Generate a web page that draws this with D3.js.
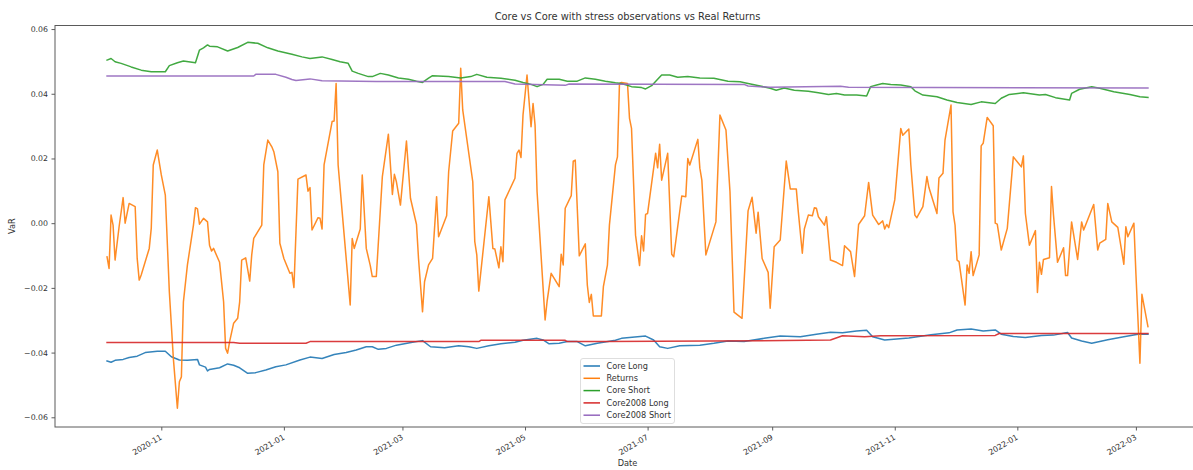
<!DOCTYPE html>
<html>
<head>
<meta charset="utf-8">
<script src="https://cdn.jsdelivr.net/npm/d3@7"></script>
<style>
  body { margin: 0; background: #fff; }
  svg { display: block; font-family: "DejaVu Sans", sans-serif; }
</style>
</head>
<body>
<svg id="chart" width="1193" height="470"></svg>
<script>
// Series names and colours (legend order)
const seriesNames = ["Core Long", "Returns", "Core Short", "Core2008 Long", "Core2008 Short"];
const seriesColors = ["#1f77b4", "#ff7f0e", "#2ca02c", "#d62728", "#9467bd"];

// Core VaR, long side
const coreLong = [
  ["2020-10-05",-0.0426],["2020-10-07",-0.0430],["2020-10-09",-0.0424],["2020-10-13",-0.0421],
  ["2020-10-16",-0.0415],["2020-10-20",-0.0411],["2020-10-24",-0.0400],["2020-10-30",-0.0396],
  ["2020-11-03",-0.0396],["2020-11-06",-0.0413],["2020-11-10",-0.0423],["2020-11-14",-0.0424],
  ["2020-11-19",-0.0421],["2020-11-20",-0.0438],["2020-11-23",-0.0445],["2020-11-24",-0.0457],
  ["2020-11-25",-0.0452],["2020-11-30",-0.0447],["2020-12-04",-0.0435],["2020-12-07",-0.0439],
  ["2020-12-10",-0.0447],["2020-12-14",-0.0464],["2020-12-18",-0.0462],["2020-12-23",-0.0454],
  ["2020-12-28",-0.0444],["2021-01-02",-0.0438],["2021-01-09",-0.0423],["2021-01-14",-0.0414],
  ["2021-01-20",-0.0418],["2021-01-26",-0.0406],["2021-02-01",-0.0400],["2021-02-06",-0.0392],
  ["2021-02-11",-0.0382],["2021-02-14",-0.0382],["2021-02-17",-0.0390],["2021-02-21",-0.0387],
  ["2021-02-26",-0.0377],["2021-03-06",-0.0368],["2021-03-11",-0.0363],["2021-03-15",-0.0382],
  ["2021-03-22",-0.0385],["2021-03-29",-0.0379],["2021-04-03",-0.0382],["2021-04-07",-0.0387],
  ["2021-04-13",-0.0379],["2021-04-19",-0.0373],["2021-04-26",-0.0368],["2021-04-30",-0.0362],
  ["2021-05-07",-0.0356],["2021-05-10",-0.0361],["2021-05-13",-0.0373],["2021-05-18",-0.0371],
  ["2021-05-22",-0.0366],["2021-05-27",-0.0366],["2021-05-31",-0.0379],["2021-06-06",-0.0371],
  ["2021-06-15",-0.0362],["2021-06-18",-0.0356],["2021-06-26",-0.0351],["2021-06-30",-0.0349],
  ["2021-07-04",-0.0361],["2021-07-07",-0.0382],["2021-07-11",-0.0387],["2021-07-17",-0.0379],
  ["2021-07-27",-0.0377],["2021-08-03",-0.0371],["2021-08-10",-0.0364],["2021-08-18",-0.0366],
  ["2021-08-28",-0.0356],["2021-09-05",-0.0349],["2021-09-15",-0.0351],["2021-09-23",-0.0343],
  ["2021-09-30",-0.0337],["2021-10-06",-0.0339],["2021-10-13",-0.0333],["2021-10-18",-0.0331],
  ["2021-10-21",-0.0351],["2021-10-27",-0.0361],["2021-11-08",-0.0355],["2021-11-19",-0.0345],
  ["2021-11-28",-0.0339],["2021-12-02",-0.0330],["2021-12-09",-0.0327],["2021-12-15",-0.0333],
  ["2021-12-21",-0.0330],["2021-12-24",-0.0343],["2021-12-30",-0.0350],["2022-01-05",-0.0353],
  ["2022-01-13",-0.0347],["2022-01-19",-0.0346],["2022-01-26",-0.0338],["2022-01-28",-0.0355],
  ["2022-02-02",-0.0364],["2022-02-07",-0.0371],["2022-02-15",-0.0360],["2022-02-23",-0.0351],
  ["2022-03-02",-0.0343],["2022-03-07",-0.0343]
];

// Realised returns
const returns = [
  ["2020-10-05",-0.0104],["2020-10-06",-0.0140],["2020-10-07",0.0025],["2020-10-08",-0.0006],
  ["2020-10-09",-0.0114],["2020-10-11",-0.0011],["2020-10-13",0.0079],["2020-10-14",0.0000],
  ["2020-10-16",0.0061],["2020-10-19",0.0051],["2020-10-20",-0.0109],["2020-10-21",-0.0176],
  ["2020-10-22",-0.0160],["2020-10-26",-0.0078],["2020-10-27",-0.0016],["2020-10-28",0.0180],
  ["2020-10-30",0.0226],["2020-11-01",0.0149],["2020-11-03",0.0087],["2020-11-05",-0.0212],
  ["2020-11-07",-0.0418],["2020-11-09",-0.0572],["2020-11-10",-0.0490],["2020-11-11",-0.0475],
  ["2020-11-12",-0.0243],["2020-11-14",-0.0129],["2020-11-17",-0.0006],["2020-11-18",0.0048],
  ["2020-11-19",0.0044],["2020-11-20",-0.0003],["2020-11-22",0.0015],["2020-11-24",0.0004],
  ["2020-11-25",-0.0068],["2020-11-26",-0.0086],["2020-11-27",-0.0078],["2020-11-30",-0.0121],
  ["2020-12-02",-0.0243],["2020-12-03",-0.0387],["2020-12-04",-0.0402],["2020-12-05",-0.0366],
  ["2020-12-07",-0.0309],["2020-12-09",-0.0294],["2020-12-10",-0.0243],["2020-12-11",-0.0114],
  ["2020-12-13",-0.0107],["2020-12-15",-0.0179],["2020-12-16",-0.0098],["2020-12-17",-0.0047],
  ["2020-12-21",-0.0006],["2020-12-22",0.0180],["2020-12-24",0.0257],["2020-12-26",0.0236],
  ["2020-12-27",0.0221],["2020-12-29",0.0159],["2020-12-30",-0.0062],["2021-01-01",-0.0109],
  ["2021-01-04",-0.0155],["2021-01-05",-0.0152],["2021-01-06",-0.0199],["2021-01-08",0.0136],
  ["2021-01-12",0.0149],["2021-01-13",0.0099],["2021-01-14",0.0110],["2021-01-15",-0.0021],
  ["2021-01-18",0.0017],["2021-01-19",0.0015],["2021-01-20",-0.0018],["2021-01-21",0.0180],
  ["2021-01-25",0.0314],["2021-01-26",0.0316],["2021-01-27",0.0432],["2021-01-28",0.0180],
  ["2021-01-31",-0.0037],["2021-02-03",-0.0253],["2021-02-04",-0.0047],["2021-02-05",-0.0078],
  ["2021-02-08",-0.0018],["2021-02-09",0.0149],["2021-02-11",-0.0078],["2021-02-13",-0.0131],
  ["2021-02-14",-0.0165],["2021-02-16",-0.0165],["2021-02-19",0.0144],["2021-02-22",0.0275],
  ["2021-02-24",0.0089],["2021-02-25",0.0151],["2021-02-26",0.0128],["2021-02-28",0.0056],
  ["2021-03-03",0.0254],["2021-03-05",0.0077],["2021-03-08",-0.0004],["2021-03-09",-0.0109],
  ["2021-03-11",-0.0274],["2021-03-12",-0.0181],["2021-03-14",-0.0129],["2021-03-16",-0.0109],
  ["2021-03-18",0.0082],["2021-03-19",-0.0042],["2021-03-23",0.0023],["2021-03-24",0.0159],
  ["2021-03-26",0.0285],["2021-03-29",0.0309],["2021-03-30",0.0479],["2021-03-31",0.0350],
  ["2021-04-05",0.0128],["2021-04-06",-0.0057],["2021-04-07",-0.0098],["2021-04-08",-0.0210],
  ["2021-04-13",0.0082],["2021-04-15",-0.0078],["2021-04-16",-0.0080],["2021-04-18",-0.0138],
  ["2021-04-19",-0.0073],["2021-04-20",-0.0119],["2021-04-21",0.0072],["2021-04-26",0.0139],
  ["2021-04-27",0.0216],["2021-04-28",0.0226],["2021-04-29",0.0203],["2021-04-30",0.0334],
  ["2021-05-02",0.0458],["2021-05-04",0.0298],["2021-05-05",0.0370],["2021-05-06",0.0303],
  ["2021-05-07",0.0097],["2021-05-11",-0.0299],["2021-05-12",-0.0241],["2021-05-14",-0.0155],
  ["2021-05-18",-0.0196],["2021-05-19",-0.0096],["2021-05-20",-0.0129],["2021-05-21",0.0046],
  ["2021-05-24",0.0085],["2021-05-25",0.0192],["2021-05-26",0.0195],["2021-05-28",-0.0101],
  ["2021-05-31",-0.0064],["2021-06-01",-0.0191],["2021-06-02",-0.0245],["2021-06-03",-0.0220],
  ["2021-06-04",-0.0287],["2021-06-08",-0.0287],["2021-06-09",-0.0196],["2021-06-11",-0.0130],
  ["2021-06-12",-0.0006],["2021-06-15",0.0180],["2021-06-16",0.0205],["2021-06-17",0.0432],
  ["2021-06-18",0.0435],["2021-06-21",0.0432],["2021-06-22",0.0324],["2021-06-23",0.0293],
  ["2021-06-25",-0.0037],["2021-06-27",-0.0131],["2021-06-28",-0.0039],["2021-06-29",-0.0086],
  ["2021-06-30",0.0027],["2021-07-01",0.0030],["2021-07-05",0.0216],["2021-07-06",0.0171],
  ["2021-07-07",0.0244],["2021-07-08",0.0133],["2021-07-11",0.0216],["2021-07-13",-0.0096],
  ["2021-07-14",-0.0104],["2021-07-18",0.0084],["2021-07-20",0.0082],["2021-07-21",0.0200],
  ["2021-07-22",0.0180],["2021-07-26",0.0259],["2021-07-27",0.0170],["2021-07-28",0.0133],
  ["2021-07-30",-0.0098],["2021-08-01",-0.0057],["2021-08-04",0.0004],["2021-08-06",0.0334],
  ["2021-08-09",0.0288],["2021-08-11",0.0097],["2021-08-13",-0.0275],["2021-08-17",-0.0294],
  ["2021-08-20",0.0038],["2021-08-22",0.0080],["2021-08-24",-0.0031],["2021-08-25",0.0034],
  ["2021-08-27",-0.0109],["2021-08-30",-0.0152],["2021-08-31",-0.0263],["2021-09-02",-0.0073],
  ["2021-09-05",-0.0052],["2021-09-08",0.0192],["2021-09-10",0.0106],["2021-09-13",0.0106],
  ["2021-09-14",0.0035],["2021-09-16",-0.0093],["2021-09-17",-0.0018],["2021-09-19",0.0025],
  ["2021-09-21",0.0023],["2021-09-22",0.0048],["2021-09-23",0.0046],["2021-09-24",0.0020],
  ["2021-09-27",-0.0006],["2021-09-28",0.0020],["2021-09-30",-0.0114],["2021-10-03",-0.0121],
  ["2021-10-06",-0.0131],["2021-10-07",-0.0070],["2021-10-10",-0.0088],["2021-10-12",-0.0165],
  ["2021-10-14",-0.0004],["2021-10-17",0.0023],["2021-10-19",0.0126],["2021-10-21",0.0025],
  ["2021-10-24",-0.0004],["2021-10-26",0.0007],["2021-10-27",-0.0018],["2021-10-28",-0.0004],
  ["2021-10-29",-0.0014],["2021-11-01",0.0072],["2021-11-04",0.0293],["2021-11-05",0.0272],
  ["2021-11-08",0.0291],["2021-11-09",0.0180],["2021-11-11",0.0025],["2021-11-12",0.0017],
  ["2021-11-15",0.0051],["2021-11-17",0.0144],["2021-11-18",0.0110],["2021-11-22",0.0030],
  ["2021-11-23",0.0140],["2021-11-25",0.0154],["2021-11-26",0.0257],["2021-11-29",0.0365],
  ["2021-11-30",0.0035],["2021-12-01",-0.0006],["2021-12-02",-0.0114],["2021-12-03",-0.0119],
  ["2021-12-06",-0.0253],["2021-12-07",-0.0129],["2021-12-08",-0.0155],["2021-12-09",-0.0088],
  ["2021-12-10",-0.0162],["2021-12-13",-0.0098],["2021-12-14",0.0239],["2021-12-15",0.0247],
  ["2021-12-17",0.0327],["2021-12-20",0.0301],["2021-12-21",0.0000],["2021-12-22",-0.0003],
  ["2021-12-24",-0.0083],["2021-12-27",-0.0016],["2021-12-30",0.0205],["2022-01-03",0.0174],
  ["2022-01-04",0.0208],["2022-01-05",0.0030],["2022-01-07",-0.0068],["2022-01-10",-0.0023],
  ["2022-01-11",-0.0214],["2022-01-12",-0.0121],["2022-01-13",-0.0158],["2022-01-14",-0.0112],
  ["2022-01-17",-0.0107],["2022-01-18",0.0113],["2022-01-19",0.0025],["2022-01-21",-0.0121],
  ["2022-01-24",-0.0076],["2022-01-25",-0.0162],["2022-01-26",-0.0162],["2022-01-28",0.0004],
  ["2022-01-31",-0.0112],["2022-02-02",0.0004],["2022-02-03",-0.0021],["2022-02-08",0.0058],
  ["2022-02-10",-0.0083],["2022-02-11",-0.0062],["2022-02-14",-0.0050],["2022-02-15",0.0061],
  ["2022-02-17",0.0004],["2022-02-20",-0.0013],["2022-02-23",-0.0127],["2022-02-24",-0.0011],
  ["2022-02-25",-0.0042],["2022-02-28",0.0000],["2022-03-01",-0.0155],["2022-03-03",-0.0433],
  ["2022-03-04",-0.0220],["2022-03-07",-0.0320]
];

// Core VaR, short side
const coreShort = [
  ["2020-10-05",0.0504],["2020-10-07",0.0509],["2020-10-09",0.0499],["2020-10-12",0.0494],
  ["2020-10-17",0.0483],["2020-10-22",0.0473],["2020-10-27",0.0468],["2020-11-03",0.0468],
  ["2020-11-05",0.0487],["2020-11-09",0.0496],["2020-11-12",0.0501],["2020-11-18",0.0496],
  ["2020-11-20",0.0535],["2020-11-22",0.0542],["2020-11-24",0.0551],["2020-11-25",0.0547],
  ["2020-11-29",0.0545],["2020-12-04",0.0532],["2020-12-09",0.0543],["2020-12-14",0.0559],
  ["2020-12-19",0.0556],["2020-12-24",0.0542],["2020-12-29",0.0532],["2021-01-05",0.0522],
  ["2021-01-10",0.0514],["2021-01-14",0.0509],["2021-01-20",0.0514],["2021-01-25",0.0506],
  ["2021-01-29",0.0499],["2021-02-02",0.0494],["2021-02-04",0.0470],["2021-02-07",0.0463],
  ["2021-02-12",0.0453],["2021-02-14",0.0453],["2021-02-18",0.0463],["2021-02-22",0.0458],
  ["2021-02-27",0.0449],["2021-03-04",0.0445],["2021-03-08",0.0439],["2021-03-11",0.0435],
  ["2021-03-14",0.0448],["2021-03-16",0.0456],["2021-03-24",0.0453],["2021-03-30",0.0449],
  ["2021-04-04",0.0453],["2021-04-07",0.0460],["2021-04-12",0.0451],["2021-04-19",0.0448],
  ["2021-04-26",0.0442],["2021-04-30",0.0435],["2021-05-04",0.0429],["2021-05-07",0.0422],
  ["2021-05-10",0.0429],["2021-05-12",0.0445],["2021-05-18",0.0445],["2021-05-22",0.0439],
  ["2021-05-27",0.0439],["2021-05-31",0.0449],["2021-06-05",0.0445],["2021-06-10",0.0439],
  ["2021-06-15",0.0434],["2021-06-18",0.0432],["2021-06-23",0.0422],["2021-06-28",0.0419],
  ["2021-06-30",0.0415],["2021-07-03",0.0425],["2021-07-06",0.0445],["2021-07-08",0.0458],
  ["2021-07-12",0.0458],["2021-07-16",0.0451],["2021-07-21",0.0453],["2021-07-27",0.0449],
  ["2021-08-03",0.0448],["2021-08-10",0.0439],["2021-08-16",0.0437],["2021-08-20",0.0432],
  ["2021-08-26",0.0424],["2021-08-31",0.0417],["2021-09-03",0.0411],["2021-09-07",0.0418],
  ["2021-09-12",0.0411],["2021-09-19",0.0408],["2021-09-24",0.0403],["2021-09-29",0.0398],
  ["2021-10-03",0.0401],["2021-10-07",0.0396],["2021-10-13",0.0396],["2021-10-18",0.0393],
  ["2021-10-20",0.0422],["2021-10-23",0.0427],["2021-10-26",0.0432],["2021-10-30",0.0429],
  ["2021-11-04",0.0427],["2021-11-09",0.0422],["2021-11-11",0.0409],["2021-11-15",0.0396],
  ["2021-11-22",0.0391],["2021-11-27",0.0381],["2021-12-02",0.0373],["2021-12-09",0.0367],
  ["2021-12-14",0.0375],["2021-12-21",0.0370],["2021-12-24",0.0386],["2021-12-28",0.0398],
  ["2022-01-04",0.0403],["2022-01-12",0.0396],["2022-01-15",0.0398],["2022-01-20",0.0388],
  ["2022-01-27",0.0381],["2022-01-28",0.0401],["2022-02-01",0.0414],["2022-02-07",0.0422],
  ["2022-02-11",0.0417],["2022-02-18",0.0406],["2022-02-26",0.0398],["2022-03-03",0.0391],
  ["2022-03-07",0.0389]
];

// Core VaR with 2008 stress observations, long side
const core2008Long = [
  ["2020-10-05",-0.0369],["2020-12-07",-0.0369],["2020-12-10",-0.0371],["2021-01-12",-0.0371],
  ["2021-01-14",-0.0366],["2021-04-08",-0.0366],["2021-04-09",-0.0362],["2021-05-21",-0.0362],
  ["2021-05-22",-0.0366],["2021-06-10",-0.0366],["2021-09-07",-0.0363],["2021-09-30",-0.0361],
  ["2021-10-06",-0.0348],["2021-10-17",-0.0351],["2021-10-25",-0.0348],["2021-12-21",-0.0347],
  ["2021-12-23",-0.0341],["2022-03-07",-0.0341]
];

// Core VaR with 2008 stress observations, short side
const core2008Short = [
  ["2020-10-05",0.0455],["2020-12-17",0.0455],["2020-12-18",0.0460],["2020-12-28",0.0460],
  ["2021-01-02",0.0451],["2021-01-05",0.0444],["2021-01-07",0.0441],["2021-01-14",0.0446],
  ["2021-01-20",0.0440],["2021-02-16",0.0438],["2021-04-21",0.0438],["2021-04-26",0.0430],
  ["2021-05-21",0.0426],["2021-05-23",0.0430],["2021-08-18",0.0429],["2021-08-20",0.0424],
  ["2021-08-31",0.0420],["2021-10-05",0.0423],["2021-10-09",0.0420],["2022-03-07",0.0418]
];

const yTickValues = [-0.06, -0.04, -0.02, 0.00, 0.02, 0.04, 0.06];
const titleText = "Core vs Core with stress observations vs Real Returns";
const xLabelText = "Date";
const yLabelText = "VaR";

// ---- layout ----
const plotLeft = 55, plotRight = 1200, plotTop = 25.5, plotBottom = 427;
const textColor = "#333";
const tickFont = 7.8;
const svg = d3.select("#chart");

const parse = d3.utcParse("%Y-%m-%d");
const rawSeries = [coreLong, returns, coreShort, core2008Long, core2008Short];
const series = rawSeries.map((arr, i) => ({
  name: seriesNames[i],
  color: seriesColors[i],
  points: arr.map(([d, v]) => ({ date: parse(d), value: v }))
}));

// x domain padded by 5% either side of the data
const dateExtent = d3.extent(series.flatMap(s => s.points), p => p.date);
const span = dateExtent[1] - dateExtent[0];
const x = d3.scaleUtc()
  .domain([new Date(+dateExtent[0] - span * 0.05), new Date(+dateExtent[1] + span * 0.05)])
  .range([plotLeft, plotRight]);
const y = d3.scaleLinear().domain([-0.0630, 0.0611]).range([plotBottom, plotTop]);

// ---- lines ----
const line = d3.line().x(p => x(p.date)).y(p => y(p.value));
svg.append("g")
  .selectAll("path")
  .data(series)
  .join("path")
  .attr("d", s => line(s.points))
  .attr("fill", "none")
  .attr("stroke", s => s.color)
  .attr("stroke-width", 1.5)
  .attr("stroke-opacity", 0.9)
  .attr("stroke-linejoin", "round")
  .attr("stroke-linecap", "square");

// ---- axes ----
const yAxis = svg.append("g")
  .attr("transform", `translate(${plotLeft},0)`)
  .call(d3.axisLeft(y).tickValues(yTickValues).tickFormat(d3.format(".2f"))
    .tickSize(3.5).tickPadding(3.5));
yAxis.select(".domain").remove();
yAxis.selectAll("line").attr("stroke", textColor).attr("stroke-width", 0.8);
yAxis.selectAll("text").attr("fill", textColor).attr("font-size", tickFont)
  .attr("font-family", "DejaVu Sans");

const xAxis = svg.append("g")
  .attr("transform", `translate(0,${plotBottom})`)
  .call(d3.axisBottom(x).ticks(d3.utcMonth.every(2)).tickFormat(d3.utcFormat("%Y-%m"))
    .tickSize(3.5).tickPadding(3.5));
xAxis.select(".domain").remove();
xAxis.selectAll("line").attr("stroke", textColor).attr("stroke-width", 0.8);
xAxis.selectAll("text")
  .attr("fill", textColor)
  .attr("font-size", tickFont)
  .attr("font-family", "DejaVu Sans")
  .attr("text-anchor", "end")
  .attr("y", 0)
  .attr("transform", "translate(-2,7) rotate(-30)")
  .attr("dy", "0.72em");

// frame
svg.append("rect")
  .attr("x", plotLeft).attr("y", plotTop)
  .attr("width", plotRight - plotLeft).attr("height", plotBottom - plotTop)
  .attr("fill", "none").attr("stroke", "#5a5a5a").attr("stroke-width", 1);

// ---- labels ----
svg.append("text")
  .attr("x", (plotLeft + plotRight) / 2).attr("y", 19.5)
  .attr("text-anchor", "middle").attr("font-size", 9.9).attr("fill", textColor)
  .text(titleText);
svg.append("text")
  .attr("x", (plotLeft + plotRight) / 2).attr("y", 466)
  .attr("text-anchor", "middle").attr("font-size", 8.2).attr("fill", textColor)
  .text(xLabelText);
svg.append("text")
  .attr("transform", `translate(15,${(plotTop + plotBottom) / 2}) rotate(-90)`)
  .attr("text-anchor", "middle").attr("font-size", 8.2).attr("fill", textColor)
  .text(yLabelText);

// ---- legend ----
const legend = svg.append("g").attr("transform", "translate(580.5,358.5)");
legend.append("rect")
  .attr("width", 94).attr("height", 65).attr("rx", 2.5)
  .attr("fill", "#fff").attr("fill-opacity", 0.8)
  .attr("stroke", "#d6d6d6").attr("stroke-width", 0.8);
const rows = legend.selectAll("g.row").data(series).join("g")
  .attr("class", "row")
  .attr("transform", (s, i) => `translate(0,${7.5 + i * 12.3})`);
rows.append("line")
  .attr("x1", 3).attr("x2", 19.5)
  .attr("stroke", s => s.color).attr("stroke-width", 1.5);
rows.append("text")
  .attr("x", 26).attr("dy", "0.35em")
  .attr("font-size", 8.2).attr("fill", textColor)
  .text(s => s.name);
</script>
</body>
</html>
